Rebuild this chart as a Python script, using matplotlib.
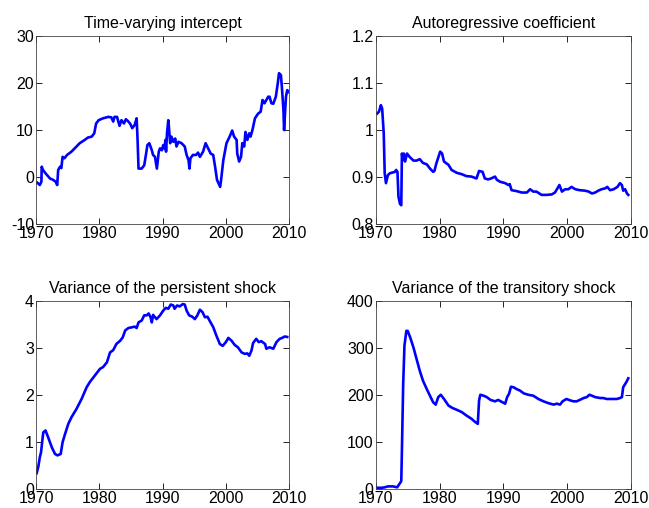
import matplotlib.pyplot as plt

plt.rcParams['font.family'] = ['Liberation Sans', 'DejaVu Sans']

# === DATA ===
int_years = [1970.2, 1970.6, 1970.85, 1970.9, 1971.1, 1971.5, 1972.2, 1972.7, 1973.1, 1973.35,
             1973.5, 1973.8, 1974.0, 1974.2, 1974.5, 1974.9, 1975.6, 1976.4, 1976.9, 1977.7,
             1978.2, 1978.8, 1979.2, 1979.5, 1979.9, 1980.6, 1981.4, 1981.9, 1982.2, 1982.4,
             1982.8, 1983.2, 1983.5, 1983.9, 1984.2, 1984.6, 1984.9, 1985.2, 1985.6, 1985.9,
             1986.05, 1986.2, 1986.7, 1987.1, 1987.4, 1987.6, 1987.9, 1988.3, 1988.5, 1988.8,
             1989.1, 1989.4, 1989.6, 1989.9, 1990.1, 1990.3, 1990.45, 1990.55, 1990.7, 1990.9,
             1991.0, 1991.2, 1991.4, 1991.7, 1992.0, 1992.2, 1992.5, 1993.0, 1993.5, 1993.8,
             1994.1, 1994.25, 1994.4, 1994.8, 1995.3, 1995.6, 1995.9, 1996.4, 1996.8, 1997.2,
             1997.6, 1998.0, 1998.3, 1998.6, 1999.1, 1999.25, 1999.6, 2000.1, 2000.6, 2001.0,
             2001.3, 2001.7, 2001.8, 2002.1, 2002.4, 2002.6, 2002.9, 2003.1, 2003.4, 2003.7,
             2003.9, 2004.2, 2004.6, 2005.1, 2005.5, 2005.8, 2006.1, 2006.4, 2006.7, 2006.9,
             2007.2, 2007.5, 2007.9, 2008.2, 2008.4, 2008.7, 2008.85, 2009.1, 2009.2, 2009.5,
             2009.7, 2009.9]
int_values = [-1.2, -1.7, -1.0, 2.2, 1.5, 0.8, -0.3, -0.6, -1.0, -1.7,
              1.5, 2.2, 1.9, 4.3, 4.0, 4.7, 5.4, 6.5, 7.2, 7.9,
              8.4, 8.6, 9.3, 11.4, 12.1, 12.5, 12.8, 12.7, 11.8, 12.8,
              12.8, 10.9, 12.1, 11.4, 12.3, 11.8, 11.3, 10.4, 11.1, 12.5,
              7.9, 1.8, 1.8, 2.5, 5.0, 6.8, 7.2, 5.7, 4.7, 4.3,
              1.8, 5.4, 6.1, 5.7, 6.8, 6.1, 7.9, 5.4, 9.3, 12.1,
              10.7, 7.2, 8.6, 7.5, 8.2, 6.5, 7.5, 7.2, 6.5, 4.7,
              3.6, 1.8, 4.0, 4.7, 4.7, 5.2, 4.3, 5.4, 7.2, 6.1,
              5.0, 4.7, 2.2, -0.6, -2.1, -0.6, 3.6, 7.2, 8.6, 9.9,
              8.6, 7.9, 5.0, 3.3, 4.3, 7.2, 6.5, 9.6, 7.9, 9.3,
              8.6, 10.0, 12.5, 13.5, 13.9, 16.4, 15.7, 16.4, 17.1, 17.1,
              15.7, 15.6, 17.1, 19.9, 22.1, 21.7, 19.2, 14.3, 10.0, 17.1,
              18.5, 18.1]

ar_years = [1970.2, 1970.5, 1970.8, 1971.0, 1971.25, 1971.4, 1971.6, 1971.9, 1972.2, 1973.0,
            1973.2, 1973.4, 1973.56, 1973.8, 1974.0, 1974.1, 1974.25, 1974.4, 1974.6, 1974.9,
            1975.3, 1975.9, 1976.4, 1976.9, 1977.4, 1978.0, 1978.5, 1979.0, 1979.2, 1979.5,
            1980.1, 1980.4, 1980.7, 1981.4, 1981.9, 1982.7, 1983.5, 1984.2, 1985.0, 1985.8,
            1986.2, 1986.75, 1987.1, 1987.6, 1988.1, 1988.7, 1989.0, 1989.5, 1990.3, 1990.8,
            1991.0, 1991.3, 1992.1, 1992.9, 1993.7, 1994.2, 1994.7, 1995.2, 1996.0, 1996.8,
            1997.6, 1998.1, 1998.8, 1999.2, 1999.7, 2000.2, 2000.7, 2001.3, 2002.0, 2002.8,
            2003.4, 2003.9, 2004.4, 2004.9, 2005.4, 2006.0, 2006.3, 2006.75, 2007.3, 2007.9,
            2008.3, 2008.6, 2008.8, 2009.1, 2009.4, 2009.6]
ar_values = [1.035, 1.039, 1.053, 1.046, 0.993, 0.908, 0.887, 0.904, 0.908, 0.911,
             0.915, 0.911, 0.858, 0.843, 0.840, 0.950, 0.936, 0.950, 0.933, 0.950,
             0.943, 0.935, 0.935, 0.938, 0.930, 0.927, 0.918, 0.911, 0.913, 0.929,
             0.954, 0.950, 0.933, 0.926, 0.915, 0.909, 0.906, 0.902, 0.901, 0.897,
             0.913, 0.911, 0.897, 0.895, 0.897, 0.901, 0.894, 0.890, 0.887, 0.883,
             0.885, 0.872, 0.870, 0.867, 0.867, 0.874, 0.869, 0.869, 0.862, 0.862,
             0.863, 0.867, 0.883, 0.869, 0.874, 0.874, 0.879, 0.874, 0.872, 0.871,
             0.869, 0.865, 0.867, 0.871, 0.874, 0.876, 0.879, 0.872, 0.874, 0.879,
             0.887, 0.883, 0.871, 0.874, 0.865, 0.862]

pers_years = [1970.1, 1970.35, 1970.6, 1970.8, 1971.0, 1971.15, 1971.5, 1971.9, 1972.5, 1973.0,
              1973.4, 1973.9, 1974.2, 1974.6, 1975.1, 1975.6, 1976.4, 1977.2, 1978.0, 1978.5,
              1979.3, 1980.1, 1980.6, 1981.2, 1981.7, 1982.2, 1982.7, 1983.3, 1983.7, 1984.1,
              1984.6, 1985.3, 1985.6, 1985.9, 1986.2, 1986.7, 1987.1, 1987.5, 1987.8, 1988.1,
              1988.3, 1988.5, 1988.8, 1989.05, 1989.6, 1990.1, 1990.5, 1990.9, 1991.3, 1991.7,
              1991.9, 1992.3, 1992.7, 1993.2, 1993.5, 1993.8, 1994.2, 1994.7, 1995.1, 1995.5,
              1995.9, 1996.3, 1996.7, 1997.1, 1997.5, 1998.0, 1998.5, 1999.05, 1999.5, 2000.0,
              2000.4, 2000.9, 2001.4, 2001.9, 2002.5, 2003.0, 2003.4, 2003.7, 2004.05, 2004.3,
              2004.8, 2005.2, 2005.6, 2006.2, 2006.4, 2006.9, 2007.5, 2008.0, 2008.5, 2008.9,
              2009.3, 2009.7]
pers_values = [0.34, 0.47, 0.68, 0.79, 1.04, 1.21, 1.25, 1.11, 0.89, 0.75,
               0.72, 0.75, 1.00, 1.18, 1.39, 1.53, 1.71, 1.92, 2.17, 2.28,
               2.42, 2.56, 2.60, 2.70, 2.91, 2.96, 3.09, 3.16, 3.23, 3.38,
               3.43, 3.45, 3.46, 3.43, 3.55, 3.59, 3.70, 3.70, 3.74, 3.66,
               3.55, 3.71, 3.66, 3.62, 3.70, 3.80, 3.86, 3.84, 3.93, 3.91,
               3.84, 3.91, 3.89, 3.94, 3.93, 3.80, 3.70, 3.67, 3.62, 3.70,
               3.82, 3.77, 3.66, 3.67, 3.57, 3.45, 3.27, 3.09, 3.05, 3.13,
               3.22, 3.16, 3.07, 3.02, 2.91, 2.88, 2.89, 2.84, 2.95, 3.11,
               3.20, 3.13, 3.15, 3.09, 2.99, 3.02, 2.99, 3.13, 3.20, 3.22,
               3.25, 3.24]

trans_years = [1970.2, 1970.9, 1971.4, 1971.9, 1972.7, 1973.35, 1973.7, 1974.0, 1974.1, 1974.3,
               1974.5, 1974.8, 1975.0, 1975.4, 1975.9, 1976.4, 1976.9, 1977.4, 1978.0, 1978.6,
               1979.0, 1979.4, 1979.8, 1980.2, 1980.7, 1981.4, 1982.0, 1982.7, 1983.5, 1984.2,
               1985.0, 1985.5, 1986.0, 1986.2, 1986.4, 1986.9, 1987.4, 1988.0, 1988.7, 1989.2,
               1989.6, 1990.3, 1990.6, 1990.9, 1991.2, 1991.6, 1992.1, 1992.6, 1993.2, 1993.9,
               1994.7, 1995.5, 1996.3, 1997.1, 1997.9, 1998.4, 1998.9, 1999.3, 1999.9, 2000.5,
               2001.0, 2001.5, 2002.0, 2002.6, 2003.1, 2003.5, 2003.9, 2004.4, 2005.2, 2005.7,
               2006.2, 2006.75, 2007.3, 2007.8, 2008.3, 2008.6, 2008.8, 2009.3, 2009.6]
trans_values = [3, 3, 4, 6, 6, 4, 11, 17, 82, 224,
                306, 337, 337, 323, 302, 277, 252, 231, 213, 196,
                185, 180, 196, 201, 192, 178, 173, 169, 164, 157,
                150, 144, 139, 189, 201, 199, 196, 190, 187, 190,
                187, 182, 196, 203, 218, 217, 213, 210, 204, 201,
                199, 192, 187, 183, 180, 182, 180, 187, 192, 189,
                187, 187, 190, 194, 196, 201, 199, 196, 194, 194,
                192, 192, 192, 192, 194, 196, 217, 228, 236]

x_ticks = [1970, 1980, 1990, 2000, 2010]

panels = [
    ("Time-varying intercept", int_years, int_values, (-10, 30), [-10, 0, 10, 20, 30], ["-10", "0", "10", "20", "30"]),
    ("Autoregressive coefficient", ar_years, ar_values, (0.8, 1.2), [0.8, 0.9, 1.0, 1.1, 1.2], ["0.8", "0.9", "1", "1.1", "1.2"]),
    ("Variance of the persistent shock", pers_years, pers_values, (0, 4), [0, 1, 2, 3, 4], ["0", "1", "2", "3", "4"]),
    ("Variance of the transitory shock", trans_years, trans_values, (0, 400), [0, 100, 200, 300, 400], ["0", "100", "200", "300", "400"]),
]

# axes rectangles in figure fractions (left, bottom, width, height)
rects = [
    (0.0555, 0.559, 0.390, 0.370),
    (0.579, 0.559, 0.393, 0.370),
    (0.0555, 0.037, 0.390, 0.370),
    (0.579, 0.037, 0.393, 0.370),
]

fig = plt.figure(figsize=(6.49, 5.08), dpi=100)
for rect, (title, xs, ys, ylim, yt, ytl) in zip(rects, panels):
    ax = fig.add_axes(rect)
    ax.plot(xs, ys, color='#0000ff', linewidth=1.9)
    ax.set_xlim(1970, 2010)
    ax.set_ylim(*ylim)
    ax.set_xticks(x_ticks)
    ax.set_xticklabels([str(t) for t in x_ticks])
    ax.set_yticks(yt)
    ax.set_yticklabels(ytl)
    ax.tick_params(direction='in', top=True, right=True, length=4, width=0.6,
                   labelsize=11.5, pad=1.5)
    for s in ax.spines.values():
        s.set_linewidth(0.6)
        s.set_color('#444444')
    ax.set_title(title, fontsize=11.5, pad=6)

fig.savefig("out.png", dpi=100)
